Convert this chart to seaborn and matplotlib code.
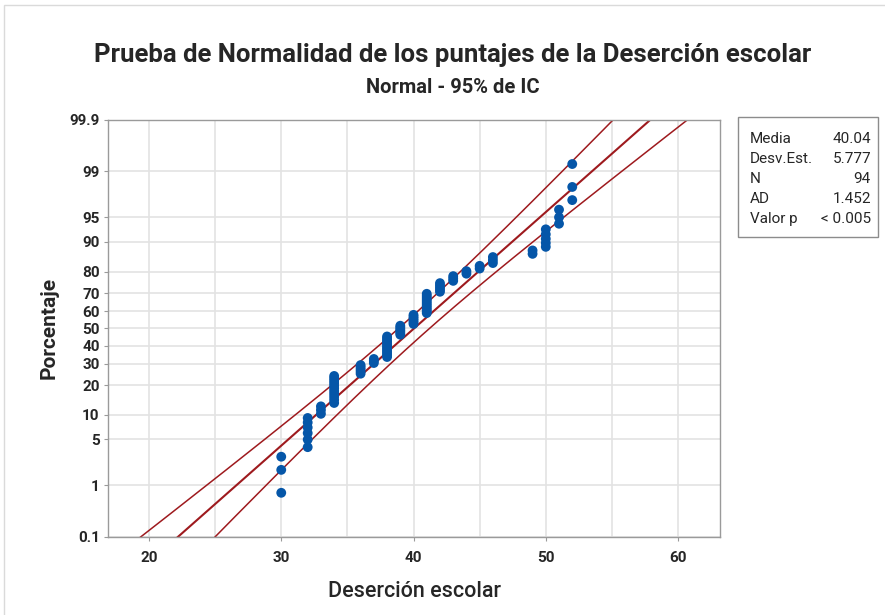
import numpy as np
import pandas as pd
import matplotlib
matplotlib.use("Agg")
import matplotlib.pyplot as plt
from matplotlib.patches import Rectangle
import seaborn as sns
from statistics import NormalDist

# ---------------- data ----------------
values = [30, 32, 33, 34, 36, 37, 38, 39, 40, 41, 42, 43, 44, 45, 46, 49, 50, 51, 52]
counts = [3, 6, 3, 11, 5, 3, 12, 6, 6, 11, 5, 3, 2, 2, 3, 2, 5, 3, 3]
media = 40.04
desv = 5.777
n_obs = 94
ad_stat = "1.452"
p_valor = "< 0.005"
y_ticks_pct = [0.1, 1, 5, 10, 20, 30, 40, 50, 60, 70, 80, 90, 95, 99, 99.9]
y_tick_labels = ["0.1", "1", "5", "10", "20", "30", "40", "50", "60", "70", "80", "90", "95", "99", "99.9"]
x_ticks = [20, 30, 40, 50, 60]
title = "Prueba de Normalidad de los puntajes de la Deserción escolar"
subtitle = "Normal - 95% de IC"
xlabel = "Deserción escolar"
ylabel = "Porcentaje"
stat_names = ["Media", "Desv.Est.", "N", "AD", "Valor p"]
stat_values = [f"{media:.2f}", f"{desv:.3f}", f"{n_obs}", ad_stat, p_valor]

# ---------------- derived ----------------
nd = NormalDist()
obs = np.repeat(values, counts)
n = len(obs)
ranks = np.arange(1, n + 1)
pct = (ranks - 0.3) / (n + 0.4)
z_obs = np.array([nd.inv_cdf(p) for p in pct])
df = pd.DataFrame({"x": obs, "z": z_obs})

zgrid = np.linspace(-3.6, 3.6, 400)
center = media + zgrid * desv
half = 1.96 * desv * np.sqrt((1 + zgrid ** 2 / 2) / n_obs)
lines = pd.DataFrame({"z": zgrid, "c": center, "lo": center - half, "hi": center + half})

# ---------------- plot ----------------
sns.set_theme(style="white")
plt.rcParams["font.family"] = ["Roboto", "DejaVu Sans"]

fig = plt.figure(figsize=(8.85, 6.15), dpi=100)
ax = fig.add_axes([0.122, 0.127, 0.692, 0.678])

zlo, zhi = nd.inv_cdf(0.001), nd.inv_cdf(0.999)
ytk = [nd.inv_cdf(p / 100) for p in y_ticks_pct]

for xv in range(20, 65, 5):
    ax.axvline(xv, color="#E3E3E3", lw=1.2, zorder=0)
for yv in ytk:
    ax.axhline(yv, color="#E3E3E3", lw=1.2, zorder=0)

red = "#9E1A1E"
ax.plot(lines["c"], lines["z"], color=red, lw=1.5, zorder=2)
ax.plot(lines["lo"], lines["z"], color=red, lw=1.1, zorder=2)
ax.plot(lines["hi"], lines["z"], color=red, lw=1.1, zorder=2)

sns.scatterplot(data=df, x="x", y="z", ax=ax, s=50, color="#0556A8",
                edgecolor="none", zorder=3, legend=False)

ax.set_xlim(16.9, 63.2)
ax.set_ylim(zlo, zhi)
ax.set_yticks(ytk)
ax.set_yticklabels(y_tick_labels)
ax.set_xticks(x_ticks)
ax.tick_params(axis="both", which="both", labelsize=11, length=3, width=0.8,
               color="#9A9A9A", direction="out", left=True, bottom=True)
ax.tick_params(axis="x", pad=7)
ax.tick_params(axis="y", pad=3)
for lab in ax.get_xticklabels() + ax.get_yticklabels():
    lab.set_fontweight("bold")
for sp in ax.spines.values():
    sp.set_color("#9A9A9A")
    sp.set_linewidth(1.0)

ax.set_xlabel(xlabel, fontsize=15.5, labelpad=12, fontweight="medium")
ax.set_ylabel(ylabel, fontsize=15, labelpad=8, fontweight="bold")

fig.text(0.512, 0.91, title, ha="center", va="center", fontsize=18.5, fontweight="bold")
fig.text(0.512, 0.858, subtitle, ha="center", va="center", fontsize=14.5, fontweight="bold")

# stats box
fig.patches.append(Rectangle((738 / 885, 1 - 237 / 615), 140 / 885, 120 / 615,
                             transform=fig.transFigure, fill=False,
                             edgecolor="#8C8C8C", lw=1.0))
rows_y = [139, 158.5, 179, 199, 219]
for nm, vv, yy in zip(stat_names, stat_values, rows_y):
    fig.text(750 / 885, 1 - yy / 615, nm, ha="left", va="center", fontsize=11)
    fig.text(871 / 885, 1 - yy / 615, vv, ha="right", va="center", fontsize=11)

# outer frame
fig.patches.append(Rectangle((3.5 / 885, -0.05), 1.2, 0.992 + 0.05,
                             transform=fig.transFigure, fill=False,
                             edgecolor="#DADADA", lw=1.0))

fig.savefig("out.png", dpi=100)
